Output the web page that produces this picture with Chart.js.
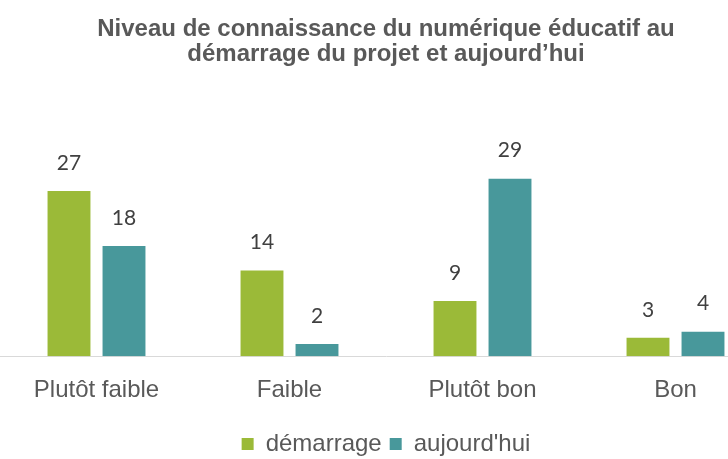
<!DOCTYPE html>
<html>
<head>
<meta charset="utf-8">
<script src="https://cdn.jsdelivr.net/npm/chart.js@4"></script>
<style>
  html, body { margin: 0; padding: 0; background: #fff; overflow: hidden; }
  #wrap { position: relative; width: 772px; height: 466px; }
</style>
</head>
<body>
<div id="wrap"><canvas id="chart"></canvas></div>
<script>
const categories = ['Plutôt faible', 'Faible', 'Plutôt bon', 'Bon'];
const demarrage = [27, 14, 9, 3];
const aujourdhui = [18, 2, 29, 4];
const titleLines = ['Niveau de connaissance du numérique éducatif au', 'démarrage du projet et aujourd\u2019hui'];

// draws the value above each bar
const valueLabels = {
  id: 'valueLabels',
  afterDatasetsDraw(chart) {
    const ctx = chart.ctx;
    ctx.save();
    ctx.font = '21px Lato, "Open Sans", sans-serif';
    ctx.fillStyle = '#404040';
    ctx.textAlign = 'center';
    ctx.textBaseline = 'middle';
    chart.data.datasets.forEach((ds, i) => {
      chart.getDatasetMeta(i).data.forEach((bar, j) => {
        ctx.fillText(ds.data[j], bar.x, bar.y - 28);
      });
    });
    ctx.restore();
  }
};

const ctx = document.getElementById('chart').getContext('2d');
new Chart(ctx, {
  type: 'bar',
  data: {
    labels: categories,
    datasets: [{
      label: 'démarrage',
      data: demarrage,
      backgroundColor: '#9BBA38'
    }, {
      label: "aujourd'hui",
      data: aujourdhui,
      backgroundColor: '#48989B'
    }]
  },
  options: {
    responsive: true,
    maintainAspectRatio: false,
    animation: false,
    categoryPercentage: 0.57,
    barPercentage: 0.78,
    layout: { padding: 0 },
    plugins: {
      tooltip: { enabled: false },
      title: {
        display: true,
        text: titleLines,
        color: '#595959',
        font: { family: '"Liberation Sans", Arial, sans-serif', size: 24, weight: 'bold', lineHeight: 1.05 },
        padding: { top: 17, bottom: 74.6 }
      },
      legend: {
        position: 'bottom',
        labels: {
          color: '#595959',
          font: { family: '"Liberation Sans", Arial, sans-serif', size: 24 },
          boxWidth: 12,
          boxHeight: 12,
          padding: 8
        }
      }
    },
    scales: {
      x: {
        grid: { display: false, drawTicks: false },
        border: { color: '#d9d9d9', width: 1 },
        ticks: {
          color: '#595959',
          padding: 19.5,
          font: { family: '"Liberation Sans", Arial, sans-serif', size: 24 }
        }
      },
      y: {
        display: false,
        min: 0,
        max: 35
      }
    }
  },
  plugins: [valueLabels]
});
</script>
</body>
</html>
